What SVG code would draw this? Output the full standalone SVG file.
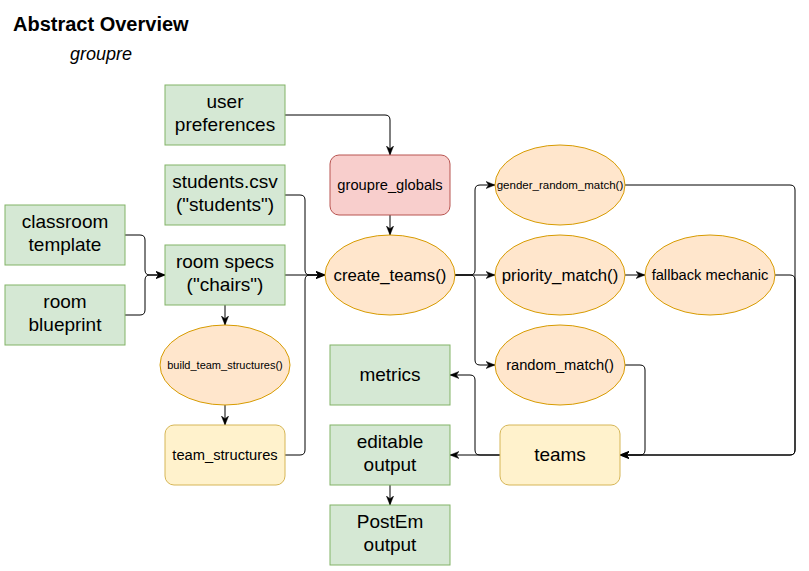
<svg xmlns="http://www.w3.org/2000/svg" width="809" height="571" viewBox="0 0 809 571">
<style>
text{font-family:"Liberation Sans",Arial,sans-serif;fill:#000;text-anchor:middle}
.g{fill:#d5e8d4;stroke:#82b366;stroke-width:1}
.o{fill:#ffe6cc;stroke:#d79b00;stroke-width:1}
.y{fill:#fff2cc;stroke:#d6b656;stroke-width:1}
.r{fill:#f8cecc;stroke:#b85450;stroke-width:1}
.t18{font-size:19px}
.t16{font-size:16.8px}
.t14{font-size:14.7px}
.t11{font-size:11.5px}
.t10{font-size:11px}
#edges path{fill:none;stroke:#000;stroke-width:1;marker-end:url(#arr)}
</style>
<defs>
<marker id="arr" viewBox="0 0 10 10" markerWidth="9" markerHeight="9" refX="10" refY="5" orient="auto" markerUnits="userSpaceOnUse">
<path d="M0,1 L10,5 L0,9 L3,5 Z" fill="#000" stroke="#000" stroke-width="0.5"/>
</marker>
</defs>
<rect width="809" height="571" fill="#fff"/>
<g id="title">
<text x="13" y="31" style="font-size:20px;font-weight:bold;text-anchor:start">Abstract Overview</text>
<text x="101" y="60" style="font-size:18px;font-style:italic">groupre</text>
</g>
<g id="edges">
<path d="M285,115 L385,115 Q390,115 390,120 L390,155"/>
<path d="M390,215 L390,235"/>
<path d="M285,195 L300,195 Q305,195 305,200 L305,270 Q305,275 310,275 L325,275"/>
<path d="M285,275 L325,275"/>
<path d="M285,455 L300,455 Q305,455 305,450 L305,280 Q305,275 310,275 L325,275"/>
<path d="M125,235 L140,235 Q145,235 145,240 L145,270 Q145,275 150,275 L165,275"/>
<path d="M125,315 L140,315 Q145,315 145,310 L145,280 Q145,275 150,275 L165,275"/>
<path d="M225,305 L225,325"/>
<path d="M225,405 L225,425"/>
<path d="M455,275 L470,275 Q475,275 475,270 L475,190 Q475,185 480,185 L495,185"/>
<path d="M455,275 L495,275"/>
<path d="M455,275 L470,275 Q475,275 475,280 L475,360 Q475,365 480,365 L495,365"/>
<path d="M625,275 L645,275"/>
<path d="M625,185 L790,185 Q795,185 795,190 L795,450 Q795,455 790,455 L620,455"/>
<path d="M775,275 L790,275 Q795,275 795,280 L795,450 Q795,455 790,455 L620,455"/>
<path d="M625,365 L640,365 Q645,365 645,370 L645,450 Q645,455 640,455 L620,455"/>
<path d="M500,455 L450,455"/>
<path d="M500,455 L480,455 Q475,455 475,450 L475,380 Q475,375 470,375 L450,375"/>
<path d="M390,485 L390,505"/>
</g>
<g id="user_preferences"><rect class="g" x="165" y="85" width="120" height="60"/><text class="t18" x="225" y="108">user</text><text class="t18" x="225" y="131">preferences</text></g>
<g id="students_csv"><rect class="g" x="165" y="165" width="120" height="60"/><text class="t18" x="225" y="188">students.csv</text><text class="t18" x="225" y="211">("students")</text></g>
<g id="room_specs"><rect class="g" x="165" y="245" width="120" height="60"/><text class="t18" x="225" y="268">room specs</text><text class="t18" x="225" y="291">("chairs")</text></g>
<g id="classroom_template"><rect class="g" x="5" y="205" width="120" height="60"/><text class="t18" x="65" y="228">classroom</text><text class="t18" x="65" y="251">template</text></g>
<g id="room_blueprint"><rect class="g" x="5" y="285" width="120" height="60"/><text class="t18" x="65" y="308">room</text><text class="t18" x="65" y="331">blueprint</text></g>
<g id="build_team_structures"><ellipse class="o" cx="225" cy="365" rx="65" ry="40"/><text class="t10" x="225" y="369">build_team_structures()</text></g>
<g id="team_structures"><rect class="y" x="165" y="425" width="120" height="60" rx="9"/><text class="t14" x="225" y="460">team_structures</text></g>
<g id="groupre_globals"><rect class="r" x="330" y="155" width="120" height="60" rx="9"/><text class="t14" x="390" y="190">groupre_globals</text></g>
<g id="create_teams"><ellipse class="o" cx="390" cy="275" rx="65" ry="40"/><text class="t16" x="390" y="281">create_teams()</text></g>
<g id="gender_random_match"><ellipse class="o" cx="560" cy="185" rx="65" ry="40"/><text class="t11" x="560" y="189">gender_random_match()</text></g>
<g id="priority_match"><ellipse class="o" cx="560" cy="275" rx="65" ry="40"/><text class="t16" x="560" y="281">priority_match()</text></g>
<g id="fallback_mechanic"><ellipse class="o" cx="710" cy="275" rx="65" ry="40"/><text class="t14" x="710" y="280">fallback mechanic</text></g>
<g id="random_match"><ellipse class="o" cx="560" cy="365" rx="65" ry="40"/><text class="t14" x="560" y="370">random_match()</text></g>
<g id="metrics"><rect class="g" x="330" y="345" width="120" height="60"/><text class="t18" x="390" y="381">metrics</text></g>
<g id="editable_output"><rect class="g" x="330" y="425" width="120" height="60"/><text class="t18" x="390" y="448">editable</text><text class="t18" x="390" y="471">output</text></g>
<g id="postem_output"><rect class="g" x="330" y="505" width="120" height="60"/><text class="t18" x="390" y="528">PostEm</text><text class="t18" x="390" y="551">output</text></g>
<g id="teams"><rect class="y" x="500" y="425" width="120" height="60" rx="9"/><text class="t18" x="560" y="461">teams</text></g>
</svg>
